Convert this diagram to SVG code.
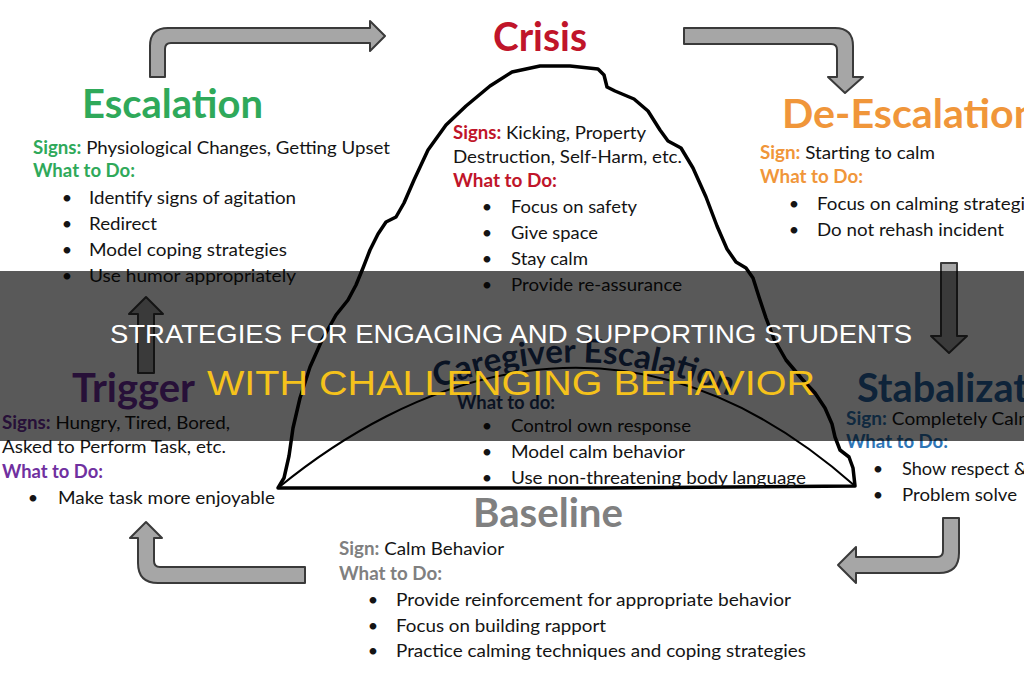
<svg xmlns="http://www.w3.org/2000/svg" width="1024" height="680" viewBox="0 0 1024 680">
  <style>
    .t { font-family: Lato, "Open Sans", "Liberation Sans", sans-serif; }
    .body { font-size: 18px; fill: #141414; }
    .hd { font-weight: 700; font-size: 40px; }
    .lbl { font-weight: 700; }
    .bul { font-size: 18px; fill: #141414; text-anchor: middle; }
    .green { fill: #2fa95a; }
    .red { fill: #c0152a; }
    .orange { fill: #f0963a; }
    .blue { fill: #2e75b6; }
    .dblue { fill: #2a64a3; }
    .purple { fill: #7030a0; }
    .gray { fill: #808080; }
    .navy { fill: #1f3864; }
    .arrow { fill: #a6a6a6; stroke: #3a3a3a; stroke-width: 2; stroke-linejoin: round; }
    .outline { fill: none; stroke: #000; stroke-width: 3.5; stroke-linejoin: round; stroke-linecap: round; }
    .arc { fill: none; stroke: #000; stroke-width: 2; }
    .cap { font-family: "Liberation Sans", Arial, sans-serif; text-anchor: middle; }
  </style>
  <defs>
    <path id="cgPath" d="M278,481 C400,383 620,273 855,479"/>
  </defs>
  <rect x="0" y="0" width="1024" height="680" fill="#ffffff"/>

  <g id="mountain">
    <path class="outline" d="M278,488 L284,478 L289,456 L293,428 L300,398 L310,367 L322,340 L336,315 L348,300 L356,285 L363,268 L370,250 L378,234 L386,222 L396,217 L404,203 L414,180 L428,150 L446,125 L466,106 L490,86 L512,72 L540,66 L570,66 L598,69 L604,75 L607,87 L615,91 L634,99 L648,111 L660,130 L668,141 L681,148 L693,168 L706,197 L717,226 L727,249 L736,262 L746,268 L753,278 L759,297 L766,318 L774,339 L786,360 L802,379 L815,393 L825,408 L832,424 L835,437 L840,450 L849,457 L853,468 L855,486 L600,488 Z"/>
    <path class="arc" d="M278,488 C400,388 620,278 855,486"/>
  </g>

  <g id="connectors">
    <path class="arrow" d="M150,77 L150,46 Q150,28 168,28 L370,28 L370,21 L385,36 L370,51 L370,43 L171,43 Q165,43 165,49 L165,77 Z"/>
    <path class="arrow" d="M684,28 L835,28 Q853,28 853,46 L853,77 L863,77 L845,93 L828,77 L837,77 L837,50 Q837,44 831,44 L684,44 Z"/>
    <path class="arrow" d="M941,263 L957,263 L957,336 L967,336 L949,353 L931,336 L941,336 Z"/>
    <path class="arrow" d="M943,518 L959,518 L959,553 Q959,573 939,573 L856,573 L856,583 L838,565 L856,547 L856,557 L937,557 Q943,557 943,551 Z"/>
    <path class="arrow" d="M305,567 L160,567 Q154,567 154,561 L154,538 L162,538 L146,522 L130,538 L138,538 L138,563 Q138,583 158,583 L305,583 Z"/>
    <path class="arrow" d="M138,373 L154,373 L154,314 L163,314 L146,297 L129,314 L138,314 Z"/>
  </g>

  <g id="escalation" class="t">
    <text class="hd green" x="82" y="118" textLength="181" lengthAdjust="spacingAndGlyphs">Escalation</text>
    <text class="body" x="33" y="154" textLength="357" lengthAdjust="spacingAndGlyphs"><tspan class="lbl green">Signs:</tspan> Physiological Changes, Getting Upset</text>
    <text class="body lbl green" x="33" y="177" textLength="102" lengthAdjust="spacingAndGlyphs">What to Do:</text>
    <text class="bul" x="67" y="204">•</text>
    <text class="bul" x="67" y="230">•</text>
    <text class="bul" x="67" y="256">•</text>
    <text class="bul" x="67" y="282">•</text>
    <text class="body" x="89" y="204" textLength="207" lengthAdjust="spacingAndGlyphs">Identify signs of agitation</text>
    <text class="body" x="89" y="230" textLength="68" lengthAdjust="spacingAndGlyphs">Redirect</text>
    <text class="body" x="89" y="256" textLength="198" lengthAdjust="spacingAndGlyphs">Model coping strategies</text>
    <text class="body" x="89" y="282" textLength="207" lengthAdjust="spacingAndGlyphs">Use humor appropriately</text>
  </g>

  <g id="crisis" class="t">
    <text class="hd red" x="493" y="51" textLength="94" lengthAdjust="spacingAndGlyphs">Crisis</text>
    <text class="body" x="453" y="139" textLength="193" lengthAdjust="spacingAndGlyphs"><tspan class="lbl red">Signs:</tspan> Kicking, Property</text>
    <text class="body" x="453" y="163" textLength="229" lengthAdjust="spacingAndGlyphs">Destruction, Self-Harm, etc.</text>
    <text class="body lbl red" x="453" y="187" textLength="104" lengthAdjust="spacingAndGlyphs">What to Do:</text>
    <text class="bul" x="487" y="213">•</text>
    <text class="bul" x="487" y="239">•</text>
    <text class="bul" x="487" y="265">•</text>
    <text class="bul" x="487" y="291">•</text>
    <text class="body" x="511" y="213" textLength="126" lengthAdjust="spacingAndGlyphs">Focus on safety</text>
    <text class="body" x="511" y="239" textLength="87" lengthAdjust="spacingAndGlyphs">Give space</text>
    <text class="body" x="511" y="265" textLength="77" lengthAdjust="spacingAndGlyphs">Stay calm</text>
    <text class="body" x="511" y="291" textLength="171" lengthAdjust="spacingAndGlyphs">Provide re-assurance</text>
  </g>

  <g id="de-escalation" class="t">
    <text class="hd orange" x="782" y="128" textLength="255" lengthAdjust="spacingAndGlyphs">De-Escalation</text>
    <text class="body" x="760" y="159" textLength="175" lengthAdjust="spacingAndGlyphs"><tspan class="lbl orange">Sign:</tspan> Starting to calm</text>
    <text class="body lbl orange" x="760" y="183" textLength="103" lengthAdjust="spacingAndGlyphs">What to Do:</text>
    <text class="bul" x="794" y="210">•</text>
    <text class="bul" x="794" y="236">•</text>
    <text class="body" x="817" y="210" textLength="226" lengthAdjust="spacingAndGlyphs">Focus on calming strategies</text>
    <text class="body" x="817" y="236" textLength="187" lengthAdjust="spacingAndGlyphs">Do not rehash incident</text>
  </g>

  <g id="stabalization" class="t">
    <text class="hd dblue" x="857" y="402" textLength="227" lengthAdjust="spacingAndGlyphs">Stabalization</text>
    <text class="body" x="846" y="425" textLength="188" lengthAdjust="spacingAndGlyphs"><tspan class="lbl blue">Sign:</tspan> Completely Calm</text>
    <text class="body lbl blue" x="846" y="448" textLength="102" lengthAdjust="spacingAndGlyphs">What to Do:</text>
    <text class="bul" x="878" y="475">•</text>
    <text class="bul" x="878" y="501">•</text>
    <text class="body" x="902" y="475" textLength="125" lengthAdjust="spacingAndGlyphs">Show respect &amp;</text>
    <text class="body" x="902" y="501" textLength="115" lengthAdjust="spacingAndGlyphs">Problem solve</text>
  </g>

  <g id="trigger" class="t">
    <text class="hd purple" x="72" y="402" textLength="123" lengthAdjust="spacingAndGlyphs">Trigger</text>
    <text class="body" x="2" y="429" textLength="228" lengthAdjust="spacingAndGlyphs"><tspan class="lbl purple">Signs:</tspan> Hungry, Tired, Bored,</text>
    <text class="body" x="2" y="453" textLength="224" lengthAdjust="spacingAndGlyphs">Asked to Perform Task, etc.</text>
    <text class="body lbl purple" x="2" y="478" textLength="101" lengthAdjust="spacingAndGlyphs">What to Do:</text>
    <text class="bul" x="33" y="504">•</text>
    <text class="body" x="58" y="504" textLength="217" lengthAdjust="spacingAndGlyphs">Make task more enjoyable</text>
  </g>

  <g id="caregiver-escalation" class="t">
    <text class="navy lbl" font-size="33"><textPath href="#cgPath" startOffset="185" textLength="300" lengthAdjust="spacingAndGlyphs">Caregiver Escalation</textPath></text>
    <text class="body lbl navy" x="457" y="409" textLength="98" lengthAdjust="spacingAndGlyphs">What to do:</text>
    <text class="bul" x="487" y="432">•</text>
    <text class="bul" x="487" y="458">•</text>
    <text class="bul" x="487" y="484">•</text>
    <text class="body" x="511" y="432" textLength="180" lengthAdjust="spacingAndGlyphs">Control own response</text>
    <text class="body" x="511" y="458" textLength="174" lengthAdjust="spacingAndGlyphs">Model calm behavior</text>
    <text class="body" x="511" y="484" textLength="295" lengthAdjust="spacingAndGlyphs">Use non-threatening body language</text>
  </g>

  <g id="baseline" class="t">
    <text class="hd gray" x="473" y="527" textLength="150" lengthAdjust="spacingAndGlyphs">Baseline</text>
    <text class="body" x="339" y="555" textLength="165" lengthAdjust="spacingAndGlyphs"><tspan class="lbl gray">Sign:</tspan> Calm Behavior</text>
    <text class="body lbl gray" x="339" y="580" textLength="103" lengthAdjust="spacingAndGlyphs">What to Do:</text>
    <text class="bul" x="373" y="606">•</text>
    <text class="bul" x="373" y="632">•</text>
    <text class="bul" x="373" y="657">•</text>
    <text class="body" x="396" y="606" textLength="395" lengthAdjust="spacingAndGlyphs">Provide reinforcement for appropriate behavior</text>
    <text class="body" x="396" y="632" textLength="210" lengthAdjust="spacingAndGlyphs">Focus on building rapport</text>
    <text class="body" x="396" y="657" textLength="410" lengthAdjust="spacingAndGlyphs">Practice calming techniques and coping strategies</text>
  </g>

  <g id="title-band">
    <rect x="0" y="271" width="1024" height="170" fill="#000000" fill-opacity="0.65"/>
    <text class="cap" x="511" y="343" font-size="25" fill="#ffffff" textLength="802" lengthAdjust="spacingAndGlyphs">STRATEGIES FOR ENGAGING AND SUPPORTING STUDENTS</text>
    <text class="cap" x="511" y="395" font-size="35" fill="#f5c21b" textLength="608" lengthAdjust="spacingAndGlyphs">WITH CHALLENGING BEHAVIOR</text>
  </g>
</svg>
